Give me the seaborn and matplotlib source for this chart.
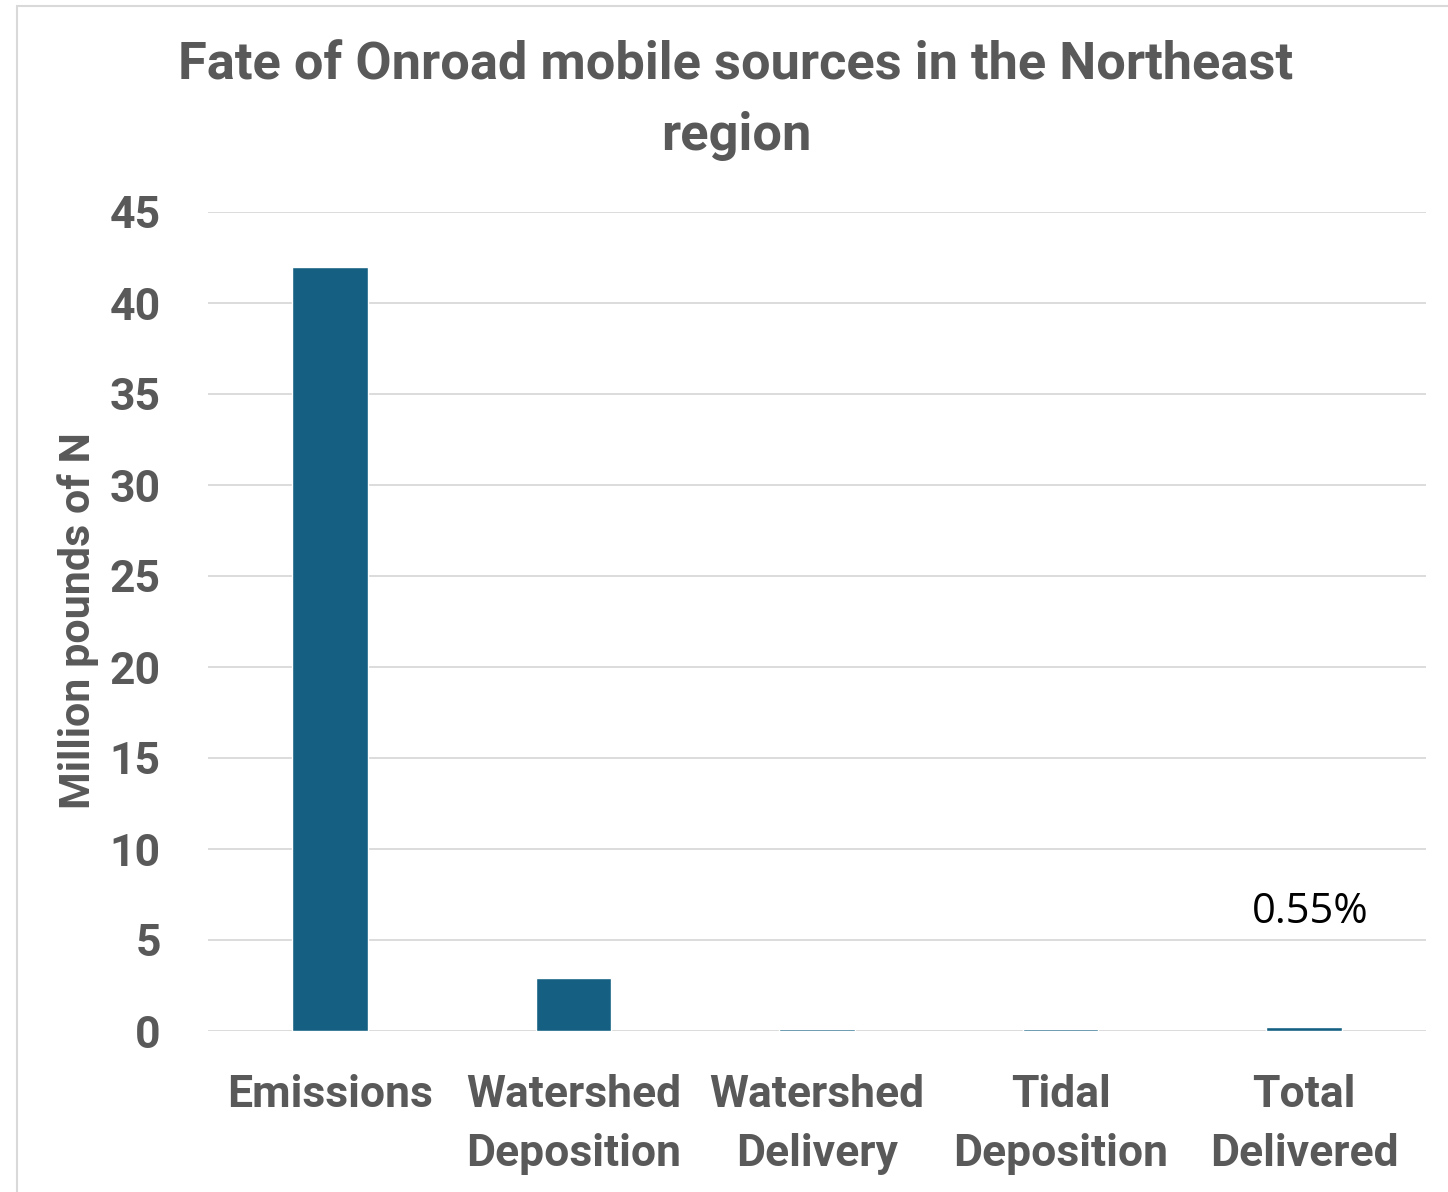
import matplotlib
matplotlib.use("Agg")
import matplotlib.pyplot as plt
from matplotlib.lines import Line2D
import pandas as pd
import seaborn as sns

# Fate of nitrogen from onroad mobile sources (million pounds of N)
categories = ["Emissions", "Watershed\nDeposition", "Watershed\nDelivery",
              "Tidal\nDeposition", "Total\nDelivered"]
values = [42.0, 2.9, 0.12, 0.12, 0.23]
delivered_share_label = "0.55%"
y_ticks = [0, 5, 10, 15, 20, 25, 30, 35, 40, 45]

sns.set_theme(style="white")
plt.rcParams["font.family"] = ["Roboto", "DejaVu Sans"]

TEXT_GRAY = "#595959"
BAR_BLUE = "#156082"
GRID_GRAY = "#d9d9d9"

df = pd.DataFrame({"category": categories, "value": values})

fig = plt.figure(figsize=(14.48, 11.92), dpi=100)
ax = fig.add_axes([208 / 1448, 1 - 1031 / 1192, 1218 / 1448, 819 / 1192])

sns.barplot(data=df, x="category", y="value", color=BAR_BLUE, width=0.31,
            saturation=1, ax=ax, zorder=3)

ax.set_xlim(-0.5, len(categories) - 0.5)
ax.set_ylim(0, 45)
ax.set_yticks(y_ticks)
ax.yaxis.grid(True, color=GRID_GRAY, linewidth=1.3)
ax.set_axisbelow(True)
for s in ax.spines.values():
    s.set_visible(False)

ax.set_xlabel("")
ax.set_ylabel("")
ax.tick_params(axis="y", length=0, pad=34, labelsize=32, labelcolor=TEXT_GRAY)
ax.tick_params(axis="x", length=0, pad=31, labelsize=32, labelcolor=TEXT_GRAY)
for lab in ax.get_yticklabels() + ax.get_xticklabels():
    lab.set_fontweight("bold")
for lab in ax.get_xticklabels():
    lab.set_linespacing(1.5)
    lab.set_verticalalignment("top")

# share of emissions that is delivered
ax.text(4.025, 6.55, delivered_share_label, ha="center", va="center",
        fontsize=30, color="black", family=["Open Sans", "DejaVu Sans"])

fig.text(736 / 1448, 1 - 101 / 1192,
         "Fate of Onroad mobile sources in the Northeast\nregion",
         ha="center", va="center", fontsize=37.7, fontweight="bold",
         color=TEXT_GRAY, linespacing=1.52)

fig.text(78 / 1448, 1 - 621 / 1192, "Million pounds of N", rotation=90,
         ha="center", va="center", fontsize=31, fontweight="bold",
         color=TEXT_GRAY)

# light frame around the chart area
x0 = 16.5 / 1448
y0 = 1 - 5.5 / 1192
fig.add_artist(Line2D([x0, x0], [0, y0], transform=fig.transFigure,
                      color=GRID_GRAY, linewidth=1.5))
fig.add_artist(Line2D([x0, 1], [y0, y0], transform=fig.transFigure,
                      color=GRID_GRAY, linewidth=1.5))

fig.savefig("out.png", dpi=100, facecolor="white")
